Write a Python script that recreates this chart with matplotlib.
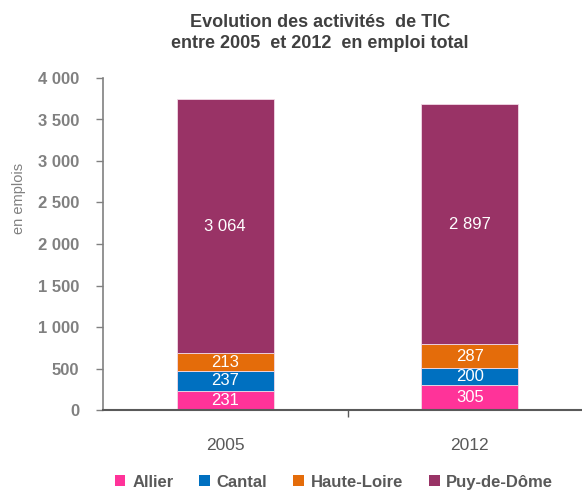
import matplotlib
matplotlib.use('Agg')
import matplotlib.pyplot as plt
import numpy as np
from matplotlib.patches import Patch

years = ['2005', '2012']
departements = ['Allier', 'Cantal', 'Haute-Loire', 'Puy-de-Dôme']
allier = [231, 305]
cantal = [237, 200]
haute_loire = [213, 287]
puy_de_dome = [3064, 2897]
yticks = [0, 500, 1000, 1500, 2000, 2500, 3000, 3500, 4000]
colors = ['#FF3399', '#0070C0', '#E46C0A', '#993366']

plt.rcParams['font.family'] = ['Liberation Sans', 'DejaVu Sans']


def fmt(v):
    return '{:,}'.format(v).replace(',', ' ')


fig = plt.figure(figsize=(5.82, 4.9), dpi=100)
ax = fig.add_axes([103 / 582, 80 / 490, 478 / 582, 332 / 490])

x = np.arange(len(years))
bottom = np.zeros(len(years))
series = [allier, cantal, haute_loire, puy_de_dome]
for vals, col in zip(series, colors):
    bars = ax.bar(x, vals, 0.397, bottom=bottom, color=col,
                  edgecolor='#f2d9e6', linewidth=0.6)
    for xi, b, v in zip(x, bottom, vals):
        ax.text(xi, b + v / 2, fmt(v), ha='center', va='center',
                color='white', fontsize=12)
    bottom += np.array(vals)

ax.set_xlim(-0.5, 1.455)
ax.set_ylim(0, 4000)
ax.set_yticks(yticks)
ax.set_yticklabels([fmt(v) for v in yticks], fontsize=12,
                   fontweight='bold', color='#808080')
ax.set_xticks(x)
ax.set_xticklabels(years, fontsize=12.5, color='#595959')
ax.set_xticks([0.5], minor=True)
ax.tick_params(axis='x', which='major', length=0, pad=20)
ax.tick_params(axis='x', which='minor', length=5, width=1, color='#595959',
               direction='out')
ax.tick_params(axis='y', length=5, width=1, color='#808080', direction='out',
               pad=12)

for s in ['top', 'right']:
    ax.spines[s].set_visible(False)
ax.spines['left'].set_color('#808080')
ax.spines['left'].set_linewidth(1.2)
ax.spines['bottom'].set_color('#595959')
ax.spines['bottom'].set_linewidth(1.5)

fig.text(19 / 582, 1 - 198 / 490, 'en emplois', rotation=90, ha='center',
         va='center', fontsize=10.5, color='#808080')

fig.text(320 / 582, 1 - 33 / 490, 'Evolution des activités  de TIC\nentre 2005  et 2012  en emploi total',
         ha='center', va='center', fontsize=13, fontweight='bold',
         color='#404040', linespacing=1.25)

handles = [Patch(facecolor=c, edgecolor='none') for c in colors]
leg = fig.legend(handles, departements, loc='center', ncol=4,
                 bbox_to_anchor=(334 / 582, 1 - 482 / 490), frameon=False,
                 prop={'size': 12, 'weight': 'bold'}, handlelength=0.65,
                 handleheight=0.65, handletextpad=0.4, columnspacing=1.55)
for t in leg.get_texts():
    t.set_color('#595959')

fig.savefig('out.png', dpi=100)
